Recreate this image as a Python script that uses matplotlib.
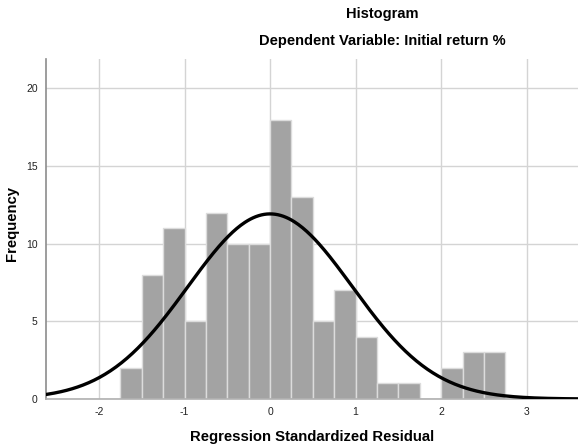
import numpy as np
import matplotlib
matplotlib.use("Agg")
import matplotlib.pyplot as plt

plt.rcParams["font.family"] = ["Liberation Sans", "DejaVu Sans"]
plt.rcParams["axes.unicode_minus"] = False

# residual histogram, bins of 0.25 starting at -1.75
bin_start = -1.75
bin_width = 0.25
counts = [2, 8, 11, 5, 12, 10, 10, 18, 13, 5, 7, 4, 1, 1, 0, 2, 3, 3]
resid_mean = 0.0
resid_sd = 0.962
n_cases = sum(counts)

x_ticks = [-2, -1, 0, 1, 2, 3]
y_ticks = [0, 5, 10, 15, 20]

edges = bin_start + bin_width * np.arange(len(counts))

fig = plt.figure(figsize=(5.78, 4.48), dpi=100)
ax = fig.add_axes([46 / 578, 49 / 448, 532 / 578, 340 / 448])

ax.bar(edges, counts, width=bin_width, align="edge", color="#a3a3a3",
       edgecolor="#dcdcdc", linewidth=1.0, zorder=2)

# fitted normal curve scaled to counts
xs = np.linspace(-2.7, 3.7, 400)
ys = n_cases * bin_width / (resid_sd * np.sqrt(2 * np.pi)) * np.exp(-0.5 * ((xs - resid_mean) / resid_sd) ** 2)
ax.plot(xs, ys, color="black", linewidth=2.4, zorder=3)

ax.set_xlim(-2.62, 3.6)
ax.set_ylim(0, 21.9)
ax.set_xticks(x_ticks)
ax.set_yticks(y_ticks)
ax.grid(True, color="#d4d4d4", linewidth=1.0, zorder=0)
ax.set_axisbelow(True)
ax.tick_params(axis="both", length=0, labelsize=7.5, colors="#222222", pad=6)

for side in ["top", "right"]:
    ax.spines[side].set_visible(False)
ax.spines["left"].set_color("#8c8c8c")
ax.spines["bottom"].set_color("#b0b0b0")
ax.spines["left"].set_linewidth(1.2)
ax.spines["bottom"].set_linewidth(1.2)

fig.text(382 / 578, 1 - 14 / 448, "Histogram", ha="center", va="center",
         fontsize=10.5, fontweight="bold")
fig.text(382 / 578, 1 - 41 / 448, "Dependent Variable: Initial return %", ha="center",
         va="center", fontsize=10.5, fontweight="bold")
fig.text(312 / 578, 1 - 437 / 448, "Regression Standardized Residual", ha="center",
         va="center", fontsize=10.7, fontweight="bold")
fig.text(12 / 578, 1 - 223 / 448, "Frequency", ha="center", va="center",
         rotation=90, fontsize=10.7, fontweight="bold")

fig.savefig("out.png", dpi=100)
